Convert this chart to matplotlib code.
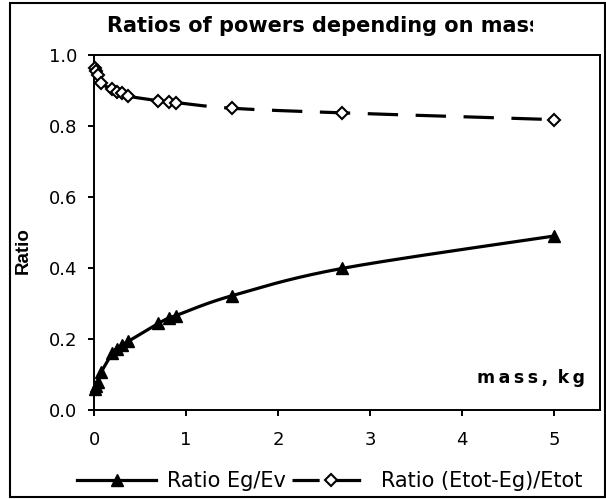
import numpy as np
import matplotlib
matplotlib.use("Agg")
import matplotlib.pyplot as plt
from matplotlib.lines import Line2D
from matplotlib.patches import Rectangle

plt.rcParams['font.family'] = ['DejaVu Sans']

# ---- data ----
mass = [0.01, 0.02, 0.04, 0.08, 0.20, 0.25, 0.30, 0.37, 0.70, 0.82, 0.89, 1.5, 2.7, 5.0]
ratio_eg_ev = [0.058, 0.068, 0.078, 0.107, 0.160, 0.172, 0.182, 0.193, 0.244, 0.260, 0.266, 0.322, 0.399, 0.490]
ratio_etot = [0.962, 0.955, 0.944, 0.920, 0.903, 0.897, 0.892, 0.884, 0.871, 0.867, 0.866, 0.850, 0.837, 0.818]
label_a = "Ratio Eg/Ev"
label_b = "Ratio (Etot-Eg)/Etot"
title = "Ratios of powers depending on mass"
xticks = [0, 1, 2, 3, 4, 5]
yticks = [0.0, 0.2, 0.4, 0.6, 0.8, 1.0]
XMAX = 5.5

W, H = 606, 499
fig = plt.figure(figsize=(W / 100, H / 100), dpi=100)
L, R, T, B = 94, 600, 55, 410
ax = fig.add_axes([L / W, 1 - B / H, (R - L) / W, (B - T) / H])
ax.set_xlim(0, XMAX)
ax.set_ylim(0, 1.0)


def smooth(xs, ys, sx, sy, n=20):
    """Excel-like smoothed line (Catmull-Rom Bezier in screen-scaled units)."""
    P = np.column_stack([np.asarray(xs) * sx, np.asarray(ys) * sy])
    out = [P[0]]
    for i in range(len(P) - 1):
        p0 = P[i - 1] if i > 0 else P[i]
        p1, p2 = P[i], P[i + 1]
        p3 = P[i + 2] if i + 2 < len(P) else P[i + 1]
        c1 = p1 + (p2 - p0) / 6.0
        c2 = p2 - (p3 - p1) / 6.0
        t = np.linspace(0, 1, n)[1:, None]
        seg = ((1 - t) ** 3) * p1 + 3 * ((1 - t) ** 2) * t * c1 + 3 * (1 - t) * t ** 2 * c2 + t ** 3 * p2
        out.extend(seg)
    out = np.array(out)
    return out[:, 0] / sx, out[:, 1] / sy


sx = (R - L) / XMAX
sy = (B - T) / 1.0

xa, ya = smooth(mass, ratio_eg_ev, sx, sy)
xb, yb = smooth(mass, ratio_etot, sx, sy)

lw = 2.3
dash = (9.5, 5.5)
ax.plot(xa, ya, color='black', lw=lw, solid_capstyle='butt', zorder=2)
ax.plot(xb, yb, color='black', lw=lw, dashes=dash, dash_capstyle='butt', zorder=2)
ax.plot(mass, ratio_eg_ev, linestyle='none', marker='^', ms=9, color='black', zorder=3, clip_on=False)
ax.plot(mass, ratio_etot, linestyle='none', marker='D', ms=6.5, mfc='white', mec='black', mew=1.5,
        zorder=3, clip_on=False)

for s in ax.spines.values():
    s.set_linewidth(1.4)
ax.set_xticks(xticks)
ax.set_xticklabels([str(v) for v in xticks])
ax.set_yticks(yticks)
ax.set_yticklabels([f"{v:.1f}" for v in yticks])
ax.tick_params(direction='out', length=4, width=1.4, labelsize=13, pad=8)
ax.tick_params(axis='x', pad=11)

ax.set_ylabel("Ratio", fontsize=13.5, fontweight='bold', family=['Liberation Sans', 'DejaVu Sans'])
ax.yaxis.set_label_coords(-0.1225, 0.45)
ax.text(0.97, 0.09, "m\u2009a\u2009s\u2009s\u2009,\u2009 k\u2009g", transform=ax.transAxes, ha='right',
        va='center', fontsize=12.5, fontweight='bold')

# title (clipped at right as in the original)
ttl = fig.text(107 / W, 1 - 26 / H, title, ha='left', va='center', fontsize=15, fontweight='bold')
clip = Rectangle((0, 0), 533 / W, 1, transform=fig.transFigure, visible=False)
fig.add_artist(clip)
ttl.set_clip_path(clip)
ttl.set_clip_on(True)

handles = [
    Line2D([], [], color='black', lw=lw, marker='^', ms=9),
    Line2D([], [], color='black', lw=lw, dashes=(8.5, 4.5), marker='D', ms=6.5, mfc='white', mec='black',
           mew=1.5),
]
fig.legend(handles, [label_a, label_b], loc='center', bbox_to_anchor=(330 / W, 1 - 481 / H), ncol=2,
           frameon=False, fontsize=15, handlelength=3.8, columnspacing=0.3, handletextpad=0.5,
           borderaxespad=0, borderpad=0)

fig.add_artist(Rectangle((10 / W, 2 / H), 595 / W, 494 / H, transform=fig.transFigure,
                         fill=False, edgecolor='black', lw=1.5))

fig.savefig("out.png", dpi=100)
